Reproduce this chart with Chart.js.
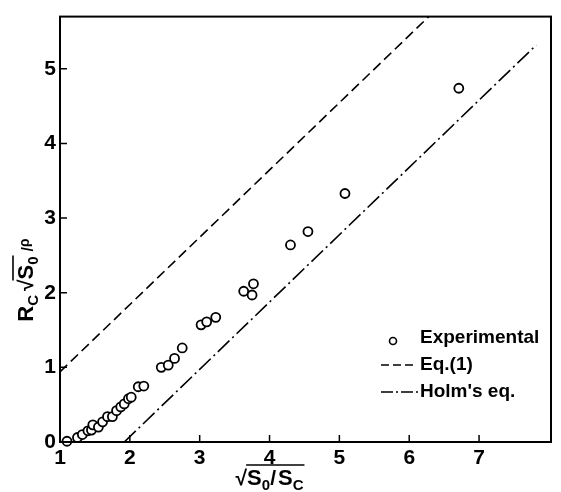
<!DOCTYPE html>
<html>
<head>
<meta charset="utf-8">
<script src="https://cdn.jsdelivr.net/npm/chart.js@4/dist/chart.umd.min.js"></script>
<style>
    html, body { margin: 0; padding: 0; background: #fff; }
    #wrap { width: 561px; height: 492px; }
</style>
</head>
<body>
<div id="wrap"><canvas id="chart"></canvas></div>
<script>
// measured points
const expX = [1.10, 1.25, 1.32, 1.40, 1.45, 1.47, 1.55, 1.61, 1.68, 1.75, 1.81, 1.87, 1.92, 1.98, 2.02,
              2.12, 2.20, 2.45, 2.55, 2.64, 2.75, 3.02, 3.10, 3.23, 3.63, 3.75, 3.77, 4.30, 4.55, 5.08, 6.71];
const expY = [0.01, 0.06, 0.10, 0.15, 0.16, 0.23, 0.20, 0.27, 0.34, 0.34, 0.42, 0.47, 0.51, 0.58, 0.60,
              0.74, 0.75, 1.00, 1.03, 1.12, 1.26, 1.57, 1.61, 1.67, 2.02, 1.97, 2.12, 2.64, 2.82, 3.33, 4.74];

// Eq.(1) and Holm's eq. (straight lines)
const eq1X  = [1.00, 6.28];
const eq1Y  = [0.94, 5.70];
const holmX = [1.92, 7.82];
const holmY = [0.00, 5.32];

const xTicks = [1, 2, 3, 4, 5, 6, 7];
const yTicks = [0, 1, 2, 3, 4, 5];
const seriesLabels = ['Experimental', 'Eq.(1)', "Holm's eq."];

const FONT = '"Liberation Sans", Arial, sans-serif';

function toPoints( xs, ys ) {
    return xs.map( function ( x, i ) { return { x: x, y: ys[i] }; } );
}

// draws text runs with sub/superscripts, returns total width
function drawRuns( ctx, runs, x, y, measureOnly ) {
    let cx = x;
    runs.forEach( function ( r ) {
        ctx.font = 'bold ' + r.size + 'px ' + FONT;
        const w = ctx.measureText( r.t ).width;
        if ( ! measureOnly ) {
            ctx.fillText( r.t, cx, y + ( r.dy || 0 ) );
        }
        r._x = cx;
        r._w = w;
        cx += w + ( r.gap || 0 );
    } );
    return cx - x;
}

const frameAndTicks = {
    id: 'frameAndTicks',
    afterDraw: function ( chart ) {
        const ctx  = chart.ctx;
        const area = chart.chartArea;
        const xs   = chart.scales.x;
        const ys   = chart.scales.y;

        ctx.save();
        ctx.strokeStyle = '#000';
        ctx.lineWidth   = 2;
        ctx.strokeRect( area.left, area.top, area.right - area.left, area.bottom - area.top );

        // inward tick marks
        ctx.lineWidth = 1.5;
        ctx.beginPath();
        xTicks.forEach( function ( v ) {
            const px = xs.getPixelForValue( v );
            ctx.moveTo( px, area.bottom );
            ctx.lineTo( px, area.bottom - 7 );
        } );
        yTicks.forEach( function ( v ) {
            const py = ys.getPixelForValue( v );
            ctx.moveTo( area.left, py );
            ctx.lineTo( area.left + 7, py );
        } );
        ctx.stroke();

        ctx.fillStyle    = '#000';
        ctx.textBaseline = 'alphabetic';
        ctx.textAlign    = 'left';

        // x title: sqrt(S0/SC)
        const xRuns = [
            { t: '\u221A', size: 21 },
            { t: 'S', size: 22 },
            { t: '0', size: 15, dy: 5 },
            { t: '/', size: 21, gap: 2 },
            { t: 'S', size: 22 },
            { t: 'C', size: 15, dy: 5 }
        ];
        const xw  = drawRuns( ctx, xRuns, 0, 0, true );
        const xx0 = xs.getPixelForValue( 4 ) - xw / 2;
        const xby = 485;
        drawRuns( ctx, xRuns, xx0, xby, false );
        ctx.lineWidth = 1.6;
        ctx.beginPath();
        ctx.moveTo( xRuns[1]._x - 1, xby - 20 );
        ctx.lineTo( xRuns[5]._x + xRuns[5]._w + 1, xby - 20 );
        ctx.stroke();

        // y title: RC sqrt(S0) / rho
        const yRuns = [
            { t: 'R', size: 22 },
            { t: 'C', size: 15, dy: 5, gap: 4 },
            { t: '\u221A', size: 21 },
            { t: 'S', size: 22 },
            { t: '0', size: 15, dy: 5, gap: 5 },
            { t: '/', size: 16 },
            { t: '\u03C1', size: 14, dy: -4 }
        ];
        const yw = drawRuns( ctx, yRuns, 0, 0, true );
        ctx.translate( 33, 280 );
        ctx.rotate( -Math.PI / 2 );
        drawRuns( ctx, yRuns, -yw / 2, 0, false );
        ctx.beginPath();
        ctx.moveTo( yRuns[3]._x - 1, -20 );
        ctx.lineTo( yRuns[4]._x + yRuns[4]._w + 1, -20 );
        ctx.stroke();
        ctx.restore();

        // legend
        ctx.save();
        ctx.fillStyle    = '#000';
        ctx.strokeStyle  = '#000';
        ctx.font         = 'bold 19px ' + FONT;
        ctx.textBaseline = 'middle';
        const lx = 420;
        const rows = [ 338, 365, 392 ];
        ctx.lineWidth = 1.6;
        ctx.beginPath();
        ctx.arc( 393, rows[0] + 3, 3.5, 0, Math.PI * 2 );
        ctx.stroke();
        ctx.setLineDash( [ 8, 4 ] );
        ctx.beginPath();
        ctx.moveTo( 381, rows[1] );
        ctx.lineTo( 416, rows[1] );
        ctx.stroke();
        ctx.setLineDash( [ 12, 3, 2, 3 ] );
        ctx.beginPath();
        ctx.moveTo( 381, rows[2] );
        ctx.lineTo( 418, rows[2] );
        ctx.stroke();
        ctx.setLineDash( [] );
        seriesLabels.forEach( function ( s, i ) {
            ctx.fillText( s, lx, rows[i] );
        } );
        ctx.restore();
    }
};

const tickFont = { family: FONT, size: 21, weight: 'bold' };

new Chart( document.getElementById( 'chart' ), {
    type: 'scatter',
    data: {
        datasets: [
            {
                label: seriesLabels[0],
                data: toPoints( expX, expY ),
                pointRadius: 4.5,
                pointBorderWidth: 1.8,
                borderColor: '#000',
                backgroundColor: '#fff',
                showLine: false,
                clip: false,
                order: 0
            },
            {
                label: seriesLabels[1],
                data: toPoints( eq1X, eq1Y ),
                showLine: true,
                pointRadius: 0,
                borderColor: '#000',
                borderWidth: 1.6,
                borderDash: [ 10, 5 ],
                order: 1
            },
            {
                label: seriesLabels[2],
                data: toPoints( holmX, holmY ),
                showLine: true,
                pointRadius: 0,
                borderColor: '#000',
                borderWidth: 1.6,
                borderDash: [ 16, 4, 2, 4 ],
                order: 2
            }
        ]
    },
    options: {
        responsive: true,
        maintainAspectRatio: false,
        animation: false,
        events: [],
        layout: { padding: { left: 0, top: 12, right: 10, bottom: 0 } },
        plugins: {
            legend: { display: false },
            tooltip: { enabled: false }
        },
        scales: {
            x: {
                type: 'linear',
                min: 1,
                max: 8.03,
                afterBuildTicks: function ( s ) { s.ticks = xTicks.map( function ( v ) { return { value: v }; } ); },
                afterFit: function ( s ) { s.height = 50; },
                grid: { display: false, drawTicks: false },
                border: { display: true, color: '#000', width: 2 },
                ticks: { color: '#000', font: tickFont, padding: 4, maxRotation: 0 }
            },
            y: {
                type: 'linear',
                min: 0,
                max: 5.7,
                afterBuildTicks: function ( s ) { s.ticks = yTicks.map( function ( v ) { return { value: v }; } ); },
                afterFit: function ( s ) { s.width = 60; },
                grid: { display: false, drawTicks: false },
                border: { display: true, color: '#000', width: 2 },
                ticks: { color: '#000', font: tickFont, padding: 4 }
            }
        }
    },
    plugins: [ frameAndTicks ]
} );
</script>
</body>
</html>
